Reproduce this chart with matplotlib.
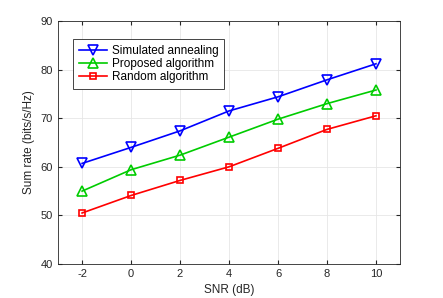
import matplotlib
matplotlib.use("Agg")
import matplotlib.pyplot as plt

# ---- data -----------------------------------------------------------------
snr_db = [-2, 0, 2, 4, 6, 8, 10]
sa_rate = [60.7, 64.0, 67.4, 71.5, 74.4, 77.9, 81.2]
proposed_rate = [55.0, 59.4, 62.4, 66.1, 69.8, 73.0, 75.8]
random_rate = [50.5, 54.1, 57.2, 60.0, 63.8, 67.7, 70.5]
labels = ["Simulated annealing", "Proposed algorithm", "Random algorithm"]

plt.rcParams["font.family"] = ["Liberation Sans", "DejaVu Sans"]
plt.rcParams["font.size"] = 8
plt.rcParams["axes.unicode_minus"] = False

fig = plt.figure(figsize=(4.43, 2.98), dpi=100)
ax = fig.add_axes([0.13, 0.114, 0.774, 0.8155])

ax.plot(snr_db, sa_rate, "-v", color="#0000FF", lw=1.2, ms=6.5,
        mfc="none", mew=1.2, label=labels[0])
ax.plot(snr_db, proposed_rate, "-^", color="#00CC00", lw=1.2, ms=6.5,
        mfc="none", mew=1.2, label=labels[1])
ax.plot(snr_db, random_rate, "-s", color="#FF0000", lw=1.2, ms=5,
        mfc="none", mew=1.2, label=labels[2])

ax.set_xlim(-3, 11)
ax.set_ylim(40, 90)
ax.set_xticks(snr_db)
ax.set_yticks(range(40, 91, 10))
ax.set_xlabel("SNR (dB)", color="#262626", fontsize=8.5)
ax.set_ylabel("Sum rate (bits/s/Hz)", color="#262626", fontsize=8.5)
ax.grid(color="#E6E6E6", lw=0.6)
ax.set_axisbelow(True)
ax.tick_params(direction="in", top=True, right=True, length=3,
               colors="#262626", labelsize=8)
for s in ax.spines.values():
    s.set_color("#262626")
    s.set_linewidth(0.6)

leg = ax.legend(loc="upper left", bbox_to_anchor=(0.1655, 0.868),
                bbox_transform=fig.transFigure, fontsize=8.5, fancybox=False,
                edgecolor="#262626", framealpha=1, handlelength=2.4,
                borderpad=0.45, labelspacing=0.12, handletextpad=0.4,
                borderaxespad=0)
leg.get_frame().set_linewidth(0.6)

fig.savefig("out.png", dpi=100)
